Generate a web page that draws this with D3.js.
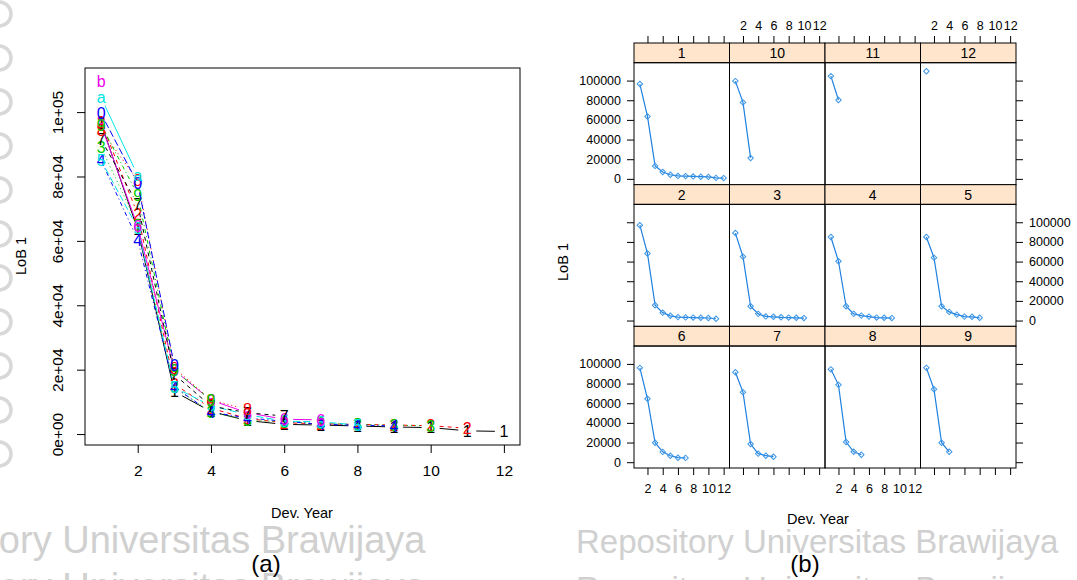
<!DOCTYPE html>
<html>
<head>
<meta charset="utf-8">
<script src="https://cdn.jsdelivr.net/npm/d3@7"></script>
<style>
  body { margin: 0; background: #fff; }
  svg { display: block; font-family: "Liberation Sans", Arial, sans-serif; }
</style>
</head>
<body>
<div id="chart"></div>
<script>
// LoB 1, incremental claims per origin year (index = dev. year - 1)
const origin1 = [96500, 63500, 13200, 7000, 4200, 3000, 2800, 2500, 2200, 2000, 1000, 800];
const origin2 = [97000, 68200, 15500, 8000, 4800, 3500, 3200, 3000, 2800, 2600, 1800];
const origin3 = [89000, 65000, 14500, 6800, 4200, 3800, 3300, 3000, 2800, 2500];
const origin4 = [85000, 60300, 14500, 6800, 5000, 4000, 3000, 2800, 2500];
const origin5 = [85000, 64000, 14500, 8800, 6000, 4000, 3800, 2800];
const origin6 = [96000, 64500, 19800, 10500, 6600, 4600, 4400];
const origin7 = [91500, 71300, 18500, 8700, 6600, 5600];
const origin8 = [94500, 78700, 20500, 10600, 7600];
const origin9 = [96000, 74300, 19800, 10600];
const origin10 = [99500, 77800, 21300];
const origin11 = [104500, 80300];
const origin12 = [109500];

const series = [origin1, origin2, origin3, origin4, origin5, origin6,
                origin7, origin8, origin9, origin10, origin11, origin12];

// matplot symbols, and lattice panel order (factor levels sorted as text)
const pchLabels = ["1", "2", "3", "4", "5", "6", "7", "8", "9", "0", "a", "b"];
const panelOrder = ["1", "10", "11", "12", "2", "3", "4", "5", "6", "7", "8", "9"];

// tick values / labels
const xTicks = [2, 4, 6, 8, 10, 12];
const yTicksA = [0, 20000, 40000, 60000, 80000, 100000];
const yTickLabelsA = ["0e+00", "2e+04", "4e+04", "6e+04", "8e+04", "1e+05"];
const yTicksB = [0, 20000, 40000, 60000, 80000, 100000];

// R base palette and lty 1:5
const rPalette = ["#000000", "#ff0000", "#00cd00", "#0000ff", "#00e5e5", "#ee00ee"];
const rDashes = [null, "4,4", "1,3", "1,3,4,3", "7,3"];

const W = 1077, H = 580;
const svg = d3.select("#chart").append("svg")
    .attr("width", W)
    .attr("height", H);

svg.append("rect").attr("width", W).attr("height", H).attr("fill", "#fff");

// --- watermark of the scanned page
const wm = svg.append("g").attr("fill", "#d0d0d0");
[553, 600].forEach(function (y) {
  wm.append("text").attr("x", -130).attr("y", y).attr("font-size", 38)
    .text("Repository Universitas Brawijaya");
  wm.append("text").attr("x", 576).attr("y", y).attr("font-size", 33)
    .text("Repository Universitas Brawijaya");
});
svg.append("g").selectAll("circle")
    .data(d3.range(11))
    .join("circle")
    .attr("cx", -1)
    .attr("cy", d => 14 + d * 44)
    .attr("r", 12)
    .attr("fill", "none")
    .attr("stroke", "#d8d8d8")
    .attr("stroke-width", 3.5);

// ================= (a) matplot =================
const gA = svg.append("g");
const xA = d3.scaleLinear().domain([0.56, 12.44]).range([85, 520]);
const yA = d3.scaleLinear().domain([-3400, 113700]).range([445, 68]);

gA.append("g")
    .attr("transform", "translate(0,445)")
    .call(d3.axisBottom(xA).tickValues(xTicks).tickSize(8).tickPadding(12))
    .call(g => g.select(".domain").remove())
    .call(g => g.selectAll("text").attr("font-size", 15.5))
    .attr("font-family", null);

gA.append("g")
    .attr("transform", "translate(85,0)")
    .call(d3.axisLeft(yA).tickValues(yTicksA)
      .tickFormat((d, i) => yTickLabelsA[i]).tickSize(8))
    .call(g => g.select(".domain").remove())
    .call(g => g.selectAll("text")
      .attr("x", 0).attr("y", -22).attr("dy", null)
      .attr("text-anchor", "middle")
      .attr("transform", "rotate(-90)")
      .attr("font-size", 15.5))
    .attr("font-family", null);

gA.append("rect")
    .attr("x", 85).attr("y", 68)
    .attr("width", 435).attr("height", 377)
    .attr("fill", "none").attr("stroke", "#000");

gA.append("text")
    .attr("x", 302).attr("y", 518)
    .attr("text-anchor", "middle")
    .attr("font-size", 14.5)
    .text("Dev. Year");

gA.append("text")
    .attr("transform", "translate(26,256) rotate(-90)")
    .attr("text-anchor", "middle")
    .attr("font-size", 14.5)
    .text("LoB 1");

// lines with gaps around the symbols (type = "b")
const gap = 9;
function shorten(p, q) {
  const dx = q[0] - p[0], dy = q[1] - p[1];
  const len = Math.hypot(dx, dy);
  if (len <= 2 * gap) return null;
  const ux = dx / len, uy = dy / len;
  return [p[0] + ux * gap, p[1] + uy * gap, q[0] - ux * gap, q[1] - uy * gap];
}

series.forEach(function (vals, i) {
  const col = rPalette[i % 6];
  const pts = vals.map((v, j) => [xA(j + 1), yA(v)]);
  const segs = d3.pairs(pts).map(([p, q]) => shorten(p, q)).filter(s => s);
  gA.append("g")
    .selectAll("line")
    .data(segs)
    .join("line")
      .attr("x1", d => d[0]).attr("y1", d => d[1])
      .attr("x2", d => d[2]).attr("y2", d => d[3])
      .attr("stroke", col)
      .attr("stroke-width", 1)
      .attr("stroke-dasharray", rDashes[i % 5]);
  gA.append("g")
    .selectAll("text")
    .data(vals)
    .join("text")
      .attr("x", (d, j) => xA(j + 1))
      .attr("y", d => yA(d))
      .attr("dy", "0.36em")
      .attr("text-anchor", "middle")
      .attr("font-size", 16)
      .attr("fill", col)
      .text(pchLabels[i]);
});

gA.append("text")
    .attr("x", 266).attr("y", 572)
    .attr("text-anchor", "middle")
    .attr("font-size", 24)
    .text("(a)");

// ================= (b) lattice xyplot =================
const gB = svg.append("g");
const bLeft = 634, bRight = 1016, bTop = 43, bBottom = 468;
const nCol = 4, nRow = 3;
const cellW = (bRight - bLeft) / nCol;
const rowH = (bBottom - bTop) / nRow;
const stripH = 19.7;
const panelH = rowH - stripH;

const xB = d3.scaleLinear().domain([0.23, 12.77]).range([0, cellW]);
const yB = d3.scaleLinear().domain([-5900, 118200]).range([panelH, 0]);
const blue = "#1f80e0";

panelOrder.forEach(function (name, k) {
  const c = k % nCol, r = Math.floor(k / nCol);
  const vals = series[+name - 1];
  const g = gB.append("g")
      .attr("transform", `translate(${bLeft + c * cellW},${bTop + r * rowH})`);

  g.append("rect")
      .attr("width", cellW).attr("height", stripH)
      .attr("fill", "#ffe5cc").attr("stroke", "#000");
  g.append("text")
      .attr("x", cellW / 2).attr("y", stripH / 2)
      .attr("dy", "0.36em")
      .attr("text-anchor", "middle")
      .attr("font-size", 14)
      .text(name);

  const p = g.append("g").attr("transform", `translate(0,${stripH})`);
  p.append("rect")
      .attr("width", cellW).attr("height", panelH)
      .attr("fill", "none").attr("stroke", "#000");

  p.append("path")
      .datum(vals)
      .attr("d", d3.line().x((d, j) => xB(j + 1)).y(d => yB(d)))
      .attr("fill", "none")
      .attr("stroke", blue)
      .attr("stroke-width", 1.2);
  p.append("g")
    .selectAll("path")
    .data(vals)
    .join("path")
      .attr("d", d3.symbol(d3.symbolSquare, 15))
      .attr("transform", (d, j) => `translate(${xB(j + 1)},${yB(d)}) rotate(45)`)
      .attr("fill", "none")
      .attr("stroke", "#3c96e6")
      .attr("stroke-width", 1);

  // x axes on outer rows, labels alternate between columns
  if (r === 0) {
    p.append("g")
      .attr("transform", `translate(0,${-stripH})`)
      .call(d3.axisTop(xB).tickValues(xTicks).tickSize(7).tickPadding(6)
        .tickFormat(c % 2 === 1 ? d3.format("d") : ""))
      .call(a => a.select(".domain").remove())
      .call(a => a.selectAll("text").attr("font-size", 12.5))
      .attr("font-family", null);
  }
  if (r === nRow - 1) {
    p.append("g")
      .attr("transform", `translate(0,${panelH})`)
      .call(d3.axisBottom(xB).tickValues(xTicks).tickSize(7).tickPadding(9)
        .tickFormat(c % 2 === 0 ? d3.format("d") : ""))
      .call(a => a.select(".domain").remove())
      .call(a => a.selectAll("text").attr("font-size", 12.5))
      .attr("font-family", null);
  }
  // y axes on outer columns, labels alternate between rows
  if (c === 0) {
    p.append("g")
      .call(d3.axisLeft(yB).tickValues(yTicksB).tickSize(7).tickPadding(6)
        .tickFormat(r % 2 === 0 ? d3.format("d") : ""))
      .call(a => a.select(".domain").remove())
      .call(a => a.selectAll("text").attr("font-size", 12.5))
      .attr("font-family", null);
  }
  if (c === nCol - 1) {
    p.append("g")
      .attr("transform", `translate(${cellW},0)`)
      .call(d3.axisRight(yB).tickValues(yTicksB).tickSize(7).tickPadding(6)
        .tickFormat(r % 2 === 1 ? d3.format("d") : ""))
      .call(a => a.select(".domain").remove())
      .call(a => a.selectAll("text").attr("font-size", 12.5))
      .attr("font-family", null);
  }
});

gB.append("text")
    .attr("x", 818).attr("y", 524)
    .attr("text-anchor", "middle")
    .attr("font-size", 14.5)
    .text("Dev. Year");

gB.append("text")
    .attr("transform", "translate(568,262) rotate(-90)")
    .attr("text-anchor", "middle")
    .attr("font-size", 14.5)
    .text("LoB 1");

gB.append("text")
    .attr("x", 805).attr("y", 572)
    .attr("text-anchor", "middle")
    .attr("font-size", 24)
    .text("(b)");
</script>
</body>
</html>
